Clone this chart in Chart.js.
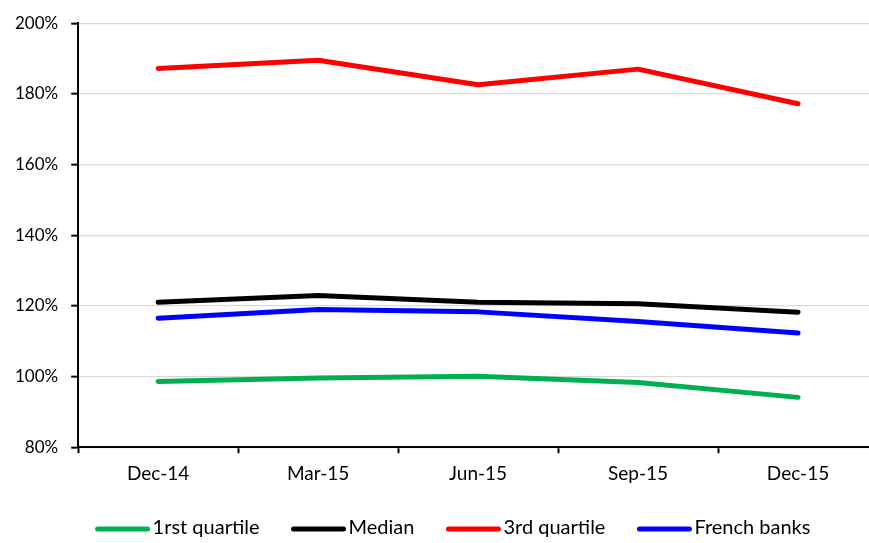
<!DOCTYPE html>
<html>
<head>
<meta charset="utf-8">
<script src="https://cdn.jsdelivr.net/npm/chart.js@4.4.1/dist/chart.umd.min.js"></script>
<style>
  html, body { margin: 0; padding: 0; overflow: hidden; background: #fff; }
  #wrap { width: 880px; height: 543px; position: relative; }
</style>
</head>
<body>
<div id="wrap"><canvas id="c"></canvas></div>
<script>
// Quarter-end dates
const categories = ['Dec-14', 'Mar-15', 'Jun-15', 'Sep-15', 'Dec-15'];

// Ratios in percent
const firstQuartile = [98.6, 99.6, 100.1, 98.3, 94.1];
const median        = [121.0, 122.9, 121.0, 120.6, 118.2];
const thirdQuartile = [187.2, 189.5, 182.6, 187.0, 177.2];
const frenchBanks   = [116.5, 119.0, 118.3, 115.6, 112.3];

const seriesLabels = ['1rst quartile', 'Median', '3rd quartile', 'French banks'];
const seriesColors = ['#00b050', '#000000', '#ff0000', '#0000ff'];

// Y axis range and step (percent)
const yMin = 80, yMax = 200, yStep = 20;

const FONT = 'Lato, "Liberation Sans", sans-serif';

// Legend drawn as a single centred row under the axis
const bottomLegend = {
  id: 'bottomLegend',
  afterDraw(chart) {
    const ctx = chart.ctx;
    const lineLen = 54, gap = 3, spacing = 32, cy = 528, cx = 453;
    ctx.save();
    ctx.font = '20px ' + FONT;
    const items = chart.data.datasets.map(ds => ({
      label: ds.label, color: ds.borderColor, w: ctx.measureText(ds.label).width
    }));
    const total = items.reduce((s, it) => s + lineLen + gap + it.w, 0) + spacing * (items.length - 1);
    let x = cx - total / 2;
    items.forEach(it => {
      ctx.strokeStyle = it.color;
      ctx.lineWidth = 5;
      ctx.lineCap = 'round';
      ctx.beginPath();
      ctx.moveTo(x + 2, cy + 1);
      ctx.lineTo(x + lineLen - 2, cy + 1);
      ctx.stroke();
      ctx.fillStyle = '#000';
      ctx.textBaseline = 'middle';
      ctx.textAlign = 'left';
      ctx.fillText(it.label, x + lineLen + gap, cy);
      x += lineLen + gap + it.w + spacing;
    });
    ctx.restore();
  }
};

const seriesData = [firstQuartile, median, thirdQuartile, frenchBanks];

new Chart(document.getElementById('c'), {
  type: 'line',
  data: {
    labels: categories,
    datasets: seriesData.map((d, i) => ({
      label: seriesLabels[i],
      data: d,
      borderColor: seriesColors[i],
      backgroundColor: seriesColors[i],
      borderWidth: 5,
      borderCapStyle: 'round',
      borderJoinStyle: 'round',
      pointRadius: 0,
      tension: 0,
      fill: false
    }))
  },
  options: {
    responsive: true,
    maintainAspectRatio: false,
    animation: false,
    events: [],
    layout: { padding: { top: 9, left: 2, right: 2, bottom: 49 } },
    plugins: {
      legend: { display: false },
      tooltip: { enabled: false }
    },
    scales: {
      x: {
        offset: true,
        grid: {
          display: true,
          drawOnChartArea: false,
          drawTicks: true,
          tickLength: 6,
          tickWidth: 2,
          tickColor: '#000',
          offset: true
        },
        border: { display: true, color: '#000', width: 2 },
        ticks: {
          color: '#000',
          font: { family: FONT, size: 19 },
          padding: 9,
          maxRotation: 0
        }
      },
      y: {
        min: yMin,
        max: yMax,
        grid: {
          color: '#d9d9d9',
          lineWidth: 1.3,
          tickLength: 7,
          tickWidth: 2,
          tickColor: '#000'
        },
        border: { display: true, color: '#000', width: 2 },
        ticks: {
          stepSize: yStep,
          color: '#000',
          font: { family: FONT, size: 17 },
          padding: 13,
          callback: v => v + '%'
        }
      }
    }
  },
  plugins: [bottomLegend]
});
</script>
</body>
</html>
